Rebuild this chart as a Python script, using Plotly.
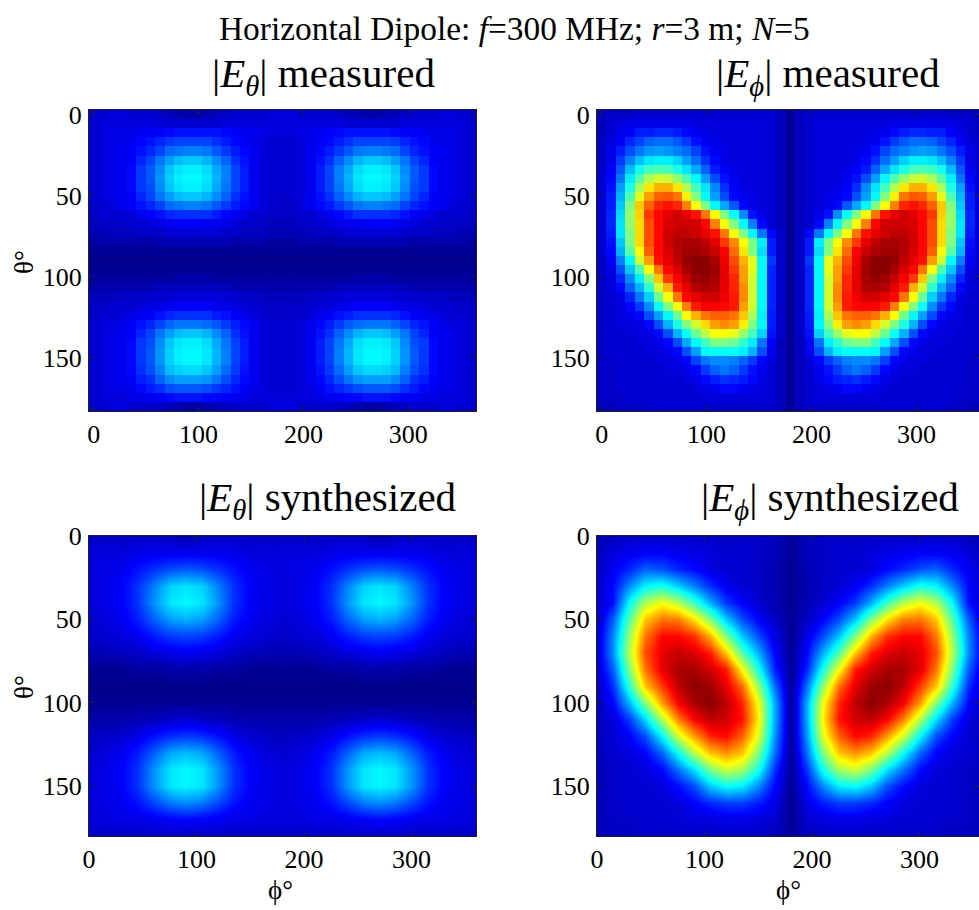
import plotly.graph_objects as go

TITLE = "Horizontal Dipole: <i>f</i>=300 MHz; <i>r</i>=3 m; <i>N</i>=5"
PANEL_TITLES = ["|<i>E</i><sub><i>θ</i></sub>| measured", "|<i>E</i><sub><i>ϕ</i></sub>| measured",
                "|<i>E</i><sub><i>θ</i></sub>| synthesized", "|<i>E</i><sub><i>ϕ</i></sub>| synthesized"]
PHI_TICKS = [0, 100, 200, 300]
THETA_TICKS = [0, 50, 100, 150]

PHI_MEASURED = [0, 9, 18, 27, 36, 45, 54, 63, 72, 81, 90, 99, 108, 117, 126, 135, 144, 153, 162, 171, 180,
                189, 198, 207, 216, 225, 234, 243, 252, 261, 270, 279, 288, 297, 306, 315, 324, 333, 342, 351, 360]
THETA_MEASURED = [0, 5.6, 11.3, 16.9, 22.5, 28.1, 33.8, 39.4, 45, 50.6, 56.3, 61.9, 67.5, 73.1, 78.8, 84.4, 90,
                  95.6, 101.3, 106.9, 112.5, 118.1, 123.8, 129.4, 135, 140.6, 146.3, 151.9, 157.5, 163.1, 168.8, 174.4, 180]
PHI_SYNTH = [0, 15, 30, 45, 60, 75, 90, 105, 120, 135, 150, 165, 180, 195, 210, 225, 240, 255, 270, 285, 300, 315, 330, 345, 360]
THETA_SYNTH = [0, 10, 20, 30, 40, 50, 60, 70, 80, 90, 100, 110, 120, 130, 140, 150, 160, 170, 180]

E_THETA_MEASURED = [
[8,8,9,9,8,8,8,7,6,5,4,4,5,6,7,8,8,8,8,9,9,9,8,8,8,8,7,6,5,4,4,5,6,7,8,8,8,9,9,8,8],
[8,9,9,9,9,9,9,9,8,8,8,8,8,8,9,9,9,9,9,9,9,9,9,9,9,9,9,8,8,8,8,8,8,9,9,9,9,9,9,9,8],
[8,9,10,10,10,11,12,12,13,14,14,14,14,14,13,12,11,11,10,9,9,9,10,11,11,12,13,14,14,14,14,14,13,12,12,11,10,10,10,9,8],
[8,9,10,10,11,13,14,16,18,19,19,19,19,17,15,13,12,10,9,8,8,8,9,10,12,13,15,17,19,19,19,19,18,16,14,13,11,10,10,9,8],
[8,9,10,11,12,14,16,19,23,24,25,25,24,21,18,15,13,11,9,8,8,8,9,11,13,15,18,21,24,25,25,24,23,19,16,14,12,11,10,9,8],
[8,9,10,11,12,16,19,24,28,31,32,32,30,26,22,17,14,11,9,8,8,8,9,11,14,17,22,26,30,32,32,31,28,24,19,16,12,11,10,9,8],
[8,9,10,11,13,18,21,26,32,35,36,36,34,29,25,19,15,11,9,8,8,8,9,11,15,19,25,29,34,36,36,35,32,26,21,18,13,11,10,9,8],
[8,9,10,11,13,18,21,27,33,36,37,37,35,30,25,19,15,11,9,8,8,8,9,11,15,19,25,30,35,37,37,36,33,27,21,18,13,11,10,9,8],
[8,9,10,11,13,18,20,26,32,35,36,36,34,29,24,19,15,11,9,8,8,8,9,11,15,19,24,29,34,36,36,35,32,26,20,18,13,11,10,9,8],
[8,9,10,11,12,16,19,24,28,31,32,32,30,26,22,17,14,11,9,8,7,8,9,11,14,17,22,26,30,32,32,31,28,24,19,16,12,11,10,9,8],
[7,8,9,11,12,14,16,19,23,24,25,25,24,21,18,15,13,11,9,7,7,7,9,11,13,15,18,21,24,25,25,24,23,19,16,14,12,11,9,8,7],
[7,8,8,8,9,11,12,14,16,17,17,17,17,15,13,11,10,8,8,7,7,7,8,8,10,11,13,15,17,17,17,17,16,14,12,11,9,8,8,8,7],
[6,7,7,7,8,8,9,10,11,12,12,12,11,11,10,9,8,7,7,6,6,6,7,7,8,9,10,11,11,12,12,12,11,10,9,8,8,7,7,7,6],
[5,5,6,6,6,7,7,7,8,8,8,8,8,8,7,7,6,6,6,5,5,5,6,6,6,7,7,8,8,8,8,8,8,7,7,7,6,6,6,5,5],
[3,4,4,4,4,4,4,5,5,5,5,5,5,5,5,4,4,4,4,3,3,3,4,4,4,4,5,5,5,5,5,5,5,5,4,4,4,4,4,4,3],
[2,2,2,2,2,2,2,2,2,2,2,2,2,2,2,2,2,2,2,2,2,2,2,2,2,2,2,2,2,2,2,2,2,2,2,2,2,2,2,2,2],
[1,1,1,1,1,1,1,1,1,1,1,1,1,1,1,1,1,1,1,1,1,1,1,1,1,1,1,1,1,1,1,1,1,1,1,1,1,1,1,1,1],
[2,2,2,2,2,2,2,2,2,2,2,2,2,2,2,2,2,2,2,2,2,2,2,2,2,2,2,2,2,2,2,2,2,2,2,2,2,2,2,2,2],
[3,3,3,3,3,3,3,3,3,4,4,4,4,3,3,3,3,3,3,3,3,3,3,3,3,3,3,3,4,4,4,4,3,3,3,3,3,3,3,3,3],
[4,5,5,5,5,5,5,6,6,6,6,6,6,6,6,5,5,5,5,4,4,4,5,5,5,5,6,6,6,6,6,6,6,6,5,5,5,5,5,5,4],
[6,6,6,7,7,7,8,8,8,9,9,9,9,9,8,8,7,7,6,6,6,6,6,7,7,8,8,9,9,9,9,9,8,8,8,7,7,7,6,6,6],
[7,7,8,8,8,9,10,10,11,12,12,12,12,11,10,9,9,8,7,7,7,7,7,8,9,9,10,11,12,12,12,12,11,10,10,9,8,8,8,7,7],
[7,8,8,9,10,11,12,14,16,17,17,17,17,15,14,12,11,9,8,7,7,7,8,9,11,12,14,15,17,17,17,17,16,14,12,11,10,9,8,8,7],
[8,9,9,10,12,14,16,19,22,24,24,24,23,21,18,15,13,11,9,8,8,8,9,11,13,15,18,21,23,24,24,24,22,19,16,14,12,10,9,9,8],
[8,9,10,11,12,16,19,24,28,31,32,32,30,26,22,17,14,11,9,8,8,8,9,11,14,17,22,26,30,32,32,31,28,24,19,16,12,11,10,9,8],
[8,9,10,11,13,18,20,26,32,35,36,36,34,29,24,19,15,11,9,8,8,8,9,11,15,19,24,29,34,36,36,35,32,26,20,18,13,11,10,9,8],
[8,9,10,11,13,18,21,27,33,36,37,37,35,30,25,19,15,11,9,8,8,8,9,11,15,19,25,30,35,37,37,36,33,27,21,18,13,11,10,9,8],
[8,9,10,11,13,18,21,27,33,36,37,37,35,30,25,19,15,11,9,8,8,8,9,11,15,19,25,30,35,37,37,36,33,27,21,18,13,11,10,9,8],
[8,9,10,11,13,17,20,25,31,33,34,34,32,28,23,18,14,11,9,8,8,8,9,11,14,18,23,28,32,34,34,33,31,25,20,17,13,11,10,9,8],
[8,9,10,11,12,15,17,22,26,28,28,28,27,24,20,16,13,11,9,8,8,8,9,11,13,16,20,24,27,28,28,28,26,22,17,15,12,11,10,9,8],
[8,9,10,10,11,13,15,17,20,21,21,21,20,18,16,14,12,10,9,8,8,8,9,10,12,14,16,18,20,21,21,21,20,17,15,13,11,10,10,9,8],
[8,9,9,9,10,10,11,12,13,14,14,14,13,13,12,11,10,9,9,9,9,9,9,9,10,11,12,13,13,14,14,14,13,12,11,10,10,9,9,9,8],
[8,8,9,9,8,8,8,7,6,5,4,4,5,6,7,8,8,8,8,9,9,9,8,8,8,8,7,6,5,4,4,5,6,7,8,8,8,9,9,8,8],
]

E_PHI_MEASURED = [
[6,7,7,7,8,8,8,8,8,8,8,8,8,8,8,8,8,8,8,6,2,6,8,8,8,8,8,8,8,8,8,8,8,8,8,8,8,7,7,7,6],
[6,8,9,10,10,10,10,10,10,10,9,9,9,9,9,9,9,9,8,6,2,6,8,9,9,9,9,9,9,9,9,10,10,10,10,10,10,10,9,8,6],
[6,8,10,12,15,15,16,16,15,13,11,10,9,9,9,9,9,9,8,6,2,6,8,9,9,9,9,9,9,10,11,13,15,16,16,15,15,12,10,8,6],
[7,9,12,16,19,22,23,23,21,18,14,11,10,9,9,9,9,9,8,6,2,6,8,9,9,9,9,9,10,11,14,18,21,23,23,22,19,16,12,9,7],
[7,10,15,20,24,27,28,27,25,23,19,14,11,10,9,9,9,9,8,6,2,6,8,9,9,9,9,10,11,14,19,23,25,27,28,27,24,20,15,10,7],
[7,10,18,25,31,35,36,36,33,28,23,17,13,10,9,9,9,9,8,6,2,6,8,9,9,9,9,10,13,17,23,28,33,36,36,35,31,25,18,10,7],
[7,12,21,31,39,44,45,44,40,35,29,22,15,12,10,9,9,9,8,6,2,6,8,9,9,9,10,12,15,22,29,35,40,44,45,44,39,31,21,12,7],
[8,13,24,36,46,54,58,57,52,45,37,28,20,14,11,9,9,9,8,6,2,6,8,9,9,9,11,14,20,28,37,45,52,57,58,54,46,36,24,13,8],
[8,14,28,40,54,65,70,70,65,55,44,35,26,17,12,10,9,9,8,6,2,6,8,9,9,10,12,17,26,35,44,55,65,70,70,65,54,40,28,14,8],
[8,15,30,45,60,72,78,79,76,64,50,37,28,20,13,11,10,9,8,6,2,6,8,9,10,11,13,20,28,37,50,64,76,79,78,72,60,45,30,15,8],
[8,15,32,50,68,78,84,86,84,75,62,50,37,29,21,13,10,9,8,6,2,6,8,9,10,13,21,29,37,50,62,75,84,86,84,78,68,50,32,15,8],
[8,16,34,52,67,82,87,90,92,90,86,76,63,50,38,26,14,10,8,6,2,6,8,10,14,26,38,50,63,76,86,90,92,90,87,82,67,52,34,16,8],
[8,16,35,52,66,80,87,91,92,92,92,87,75,62,50,37,25,13,8,6,2,6,8,13,25,37,50,62,75,87,92,92,92,91,87,80,66,52,35,16,8],
[8,15,35,50,66,80,87,92,94,94,92,90,86,76,62,50,37,24,13,7,2,7,13,24,37,50,62,76,86,90,92,94,94,92,87,80,66,50,35,15,8],
[8,14,32,50,66,80,87,92,95,96,96,94,90,82,74,62,50,36,15,7,2,7,15,36,50,62,74,82,90,94,96,96,95,92,87,80,66,50,32,14,8],
[8,13,30,46,62,78,87,91,95,97,97,96,93,88,77,65,50,34,15,7,2,7,15,34,50,65,77,88,93,96,97,97,95,91,87,78,62,46,30,13,8],
[7,12,25,37,58,72,86,90,94,98,99,99,96,89,80,70,60,37,18,7,2,7,18,37,60,70,80,89,96,99,99,98,94,90,86,72,58,37,25,12,7],
[7,10,20,32,45,62,76,87,91,96,99,99,97,90,82,72,60,37,16,7,2,7,16,37,60,72,82,90,97,99,99,96,91,87,76,62,45,32,20,10,7],
[7,9,16,26,36,50,68,82,88,93,97,98,96,90,84,72,58,37,16,7,2,7,16,37,58,72,84,90,96,98,97,93,88,82,68,50,36,26,16,9,7],
[7,9,13,22,30,42,58,70,85,90,95,96,95,90,84,74,58,37,16,7,2,7,16,37,58,74,84,90,95,96,95,90,85,70,58,42,30,22,13,9,7],
[7,8,10,16,24,33,48,62,76,87,90,92,92,89,85,74,58,37,16,7,2,7,16,37,58,74,85,89,92,92,90,87,76,62,48,33,24,16,10,8,7],
[7,8,9,13,18,26,38,50,62,75,85,88,88,87,85,72,58,37,16,7,2,7,16,37,58,72,85,87,88,88,85,75,62,50,38,26,18,13,9,8,7],
[7,8,9,10,13,20,28,37,48,62,70,76,78,78,76,68,54,36,15,7,2,7,15,36,54,68,76,78,78,76,70,62,48,37,28,20,13,10,9,8,7],
[7,8,9,9,10,13,20,30,40,50,58,66,72,74,72,64,50,37,15,7,2,7,15,37,50,64,72,74,72,66,58,50,40,30,20,13,10,9,9,8,7],
[7,8,8,9,9,10,13,20,30,38,48,56,62,62,60,52,44,33,14,7,2,7,14,33,44,52,60,62,62,56,48,38,30,20,13,10,9,9,8,8,7],
[7,8,8,8,9,9,10,13,20,29,37,44,50,50,48,42,36,24,12,6,2,6,12,24,36,42,48,50,50,44,37,29,20,13,10,9,9,8,8,8,7],
[7,8,8,8,8,9,9,10,13,20,28,37,38,38,38,36,30,20,11,6,2,6,11,20,30,36,38,38,38,37,28,20,13,10,9,9,8,8,8,8,7],
[7,7,8,8,8,8,9,9,10,13,19,24,26,26,25,22,18,13,9,6,2,6,9,13,18,22,25,26,26,24,19,13,10,9,9,8,8,8,8,7,7],
[7,7,8,8,8,8,8,9,9,10,13,18,22,24,22,18,14,11,8,6,2,6,8,11,14,18,22,24,22,18,13,10,9,9,8,8,8,8,8,7,7],
[7,7,8,8,8,8,8,8,8,9,10,13,15,17,16,15,13,10,8,6,2,6,8,10,13,15,16,17,15,13,10,9,8,8,8,8,8,8,8,7,7],
[7,7,8,8,8,8,8,8,8,8,9,10,11,13,13,11,10,9,8,6,2,6,8,9,10,11,13,13,11,10,9,8,8,8,8,8,8,8,8,7,7],
[7,7,7,8,8,8,8,8,8,8,8,9,9,9,9,9,9,9,8,6,2,6,8,9,9,9,9,9,9,9,8,8,8,8,8,8,8,8,7,7,7],
[6,6,7,7,7,8,8,8,8,8,8,8,8,8,8,8,8,8,8,6,2,6,8,8,8,8,8,8,8,8,8,8,8,8,8,8,8,7,7,6,6],
]

E_THETA_SYNTH = [
[7,7,7,7,7,6,5,6,7,7,7,7,7,7,7,7,7,6,5,6,7,7,7,7,7],
[9,9,9,10,11,11,11,11,11,10,9,9,9,9,9,10,11,11,11,11,11,10,9,9,9],
[9,10,11,14,17,20,21,20,17,14,11,10,9,10,11,14,17,20,21,20,17,14,11,10,9],
[9,10,12,17,25,33,35,33,25,17,12,10,9,10,12,17,25,33,35,33,25,17,12,10,9],
[9,10,12,17,27,35,37,35,27,17,12,10,9,10,12,17,27,35,37,35,27,17,12,10,9],
[8,9,11,15,22,28,30,28,22,15,11,9,8,9,11,15,22,28,30,28,22,15,11,9,8],
[7,8,9,11,15,18,19,18,15,11,9,8,7,8,9,11,15,18,19,18,15,11,9,8,7],
[5,5,6,7,9,10,11,10,9,7,6,5,5,5,6,7,9,10,11,10,9,7,6,5,5],
[2,2,2,3,3,4,4,4,3,3,2,2,2,2,2,3,3,4,4,4,3,3,2,2,2],
[1,1,1,1,1,1,1,1,1,1,1,1,1,1,1,1,1,1,1,1,1,1,1,1,1],
[2,2,2,2,2,2,2,2,2,2,2,2,2,2,2,2,2,2,2,2,2,2,2,2,2],
[4,4,4,5,6,7,8,7,6,5,4,4,4,4,4,5,6,7,8,7,6,5,4,4,4],
[6,7,8,10,14,17,18,17,14,10,8,7,6,7,8,10,14,17,18,17,14,10,8,7,6],
[8,9,11,15,22,29,31,29,22,15,11,9,8,9,11,15,22,29,31,29,22,15,11,9,8],
[9,10,12,17,27,35,37,35,27,17,12,10,9,10,12,17,27,35,37,35,27,17,12,10,9],
[9,10,12,17,27,35,37,35,27,17,12,10,9,10,12,17,27,35,37,35,27,17,12,10,9],
[9,10,11,14,19,24,26,24,19,14,11,10,9,10,11,14,19,24,26,24,19,14,11,10,9],
[9,9,10,10,11,12,13,12,11,10,10,9,9,9,10,10,11,12,13,12,11,10,10,9,9],
[7,7,7,7,7,7,7,7,7,7,7,7,7,7,7,7,7,7,7,7,7,7,7,7,7],
]

E_PHI_SYNTH = [
[5,6,7,7,7,7,7,7,7,7,7,6,3,6,7,7,7,7,7,7,7,7,7,6,5],
[6,9,11,12,12,11,10,9,8,8,7,6,2,6,7,8,8,9,10,11,12,12,11,9,6],
[7,11,16,22,20,16,13,9,8,8,7,5,2,5,7,8,8,9,13,16,20,22,16,11,7],
[7,13,26,37,40,33,25,17,11,8,7,5,2,5,7,8,11,17,25,33,40,37,26,13,7],
[7,14,38,55,62,56,44,30,18,12,8,5,2,5,8,12,18,30,44,56,62,55,38,14,7],
[7,22,46,68,76,75,65,50,32,20,12,7,2,7,12,20,32,50,65,75,76,68,46,22,7],
[8,26,52,76,87,87,83,70,50,32,20,10,2,10,20,32,50,70,83,87,87,76,52,26,8],
[8,27,55,80,90,93,91,85,68,46,30,13,2,13,30,46,68,85,91,93,90,80,55,27,8],
[7,22,50,76,90,96,96,92,85,62,40,16,2,16,40,62,85,92,96,96,90,76,50,22,7],
[6,17,42,68,82,94,99,97,90,77,52,24,2,24,52,77,90,97,99,94,82,68,42,17,6],
[6,13,30,50,72,88,96,99,94,84,62,30,2,30,62,84,94,99,96,88,72,50,30,13,6],
[6,9,18,34,55,75,88,94,92,86,64,30,2,30,64,86,92,94,88,75,55,34,18,9,6],
[6,8,12,20,37,58,72,84,87,78,60,28,2,28,60,78,87,84,72,58,37,20,12,8,6],
[6,8,9,12,22,38,55,68,73,68,50,24,2,24,50,68,73,68,55,38,22,12,9,8,6],
[6,7,8,9,13,24,35,50,58,54,40,18,2,18,40,54,58,50,35,24,13,9,8,7,6],
[6,7,8,8,9,13,20,32,38,36,26,13,2,13,26,36,38,32,20,13,9,8,8,7,6],
[6,7,8,8,8,9,12,16,18,18,15,10,2,10,15,18,18,16,12,9,8,8,8,7,6],
[6,7,7,8,8,8,9,9,10,10,9,8,2,8,9,10,10,9,9,8,8,8,7,7,6],
[5,6,6,7,7,7,7,7,7,7,7,6,3,6,7,7,7,7,7,7,7,7,6,6,5],
]

JET = [[0, "rgb(0,0,128)"], [0.125, "rgb(0,0,255)"], [0.375, "rgb(0,255,255)"],
       [0.625, "rgb(255,255,0)"], [0.875, "rgb(255,0,0)"], [1, "rgb(128,0,0)"]]
W, H = 979, 910
FONT = "Liberation Serif"
LEFT_COL, RIGHT_COL = (89, 476), (597, 979)
TOP_ROW, BOTTOM_ROW = (110, 411), (536, 836)

panels = [
    (E_THETA_MEASURED, PHI_MEASURED, THETA_MEASURED, LEFT_COL, TOP_ROW, [-4.5, 364.5], [182.8, -2.8], False),
    (E_PHI_MEASURED, PHI_MEASURED, THETA_MEASURED, RIGHT_COL, TOP_ROW, [-4.5, 359.7], [182.8, -2.8], False),
    (E_THETA_SYNTH, PHI_SYNTH, THETA_SYNTH, LEFT_COL, BOTTOM_ROW, [0, 360], [180, 0], True),
    (E_PHI_SYNTH, PHI_SYNTH, THETA_SYNTH, RIGHT_COL, BOTTOM_ROW, [0, 355.3], [180, 0], True),
]

fig = go.Figure()
axis_style = dict(showgrid=False, zeroline=False, showline=True, linecolor="#222", linewidth=1, mirror="ticks",
                  ticks="inside", ticklen=5, tickcolor="#222", tickwidth=1, color="black", automargin=False,
                  tickfont=dict(family=FONT, size=26, color="black"))
for i, (z, x, y, col, row, xr, yr, smooth) in enumerate(panels):
    n = "" if i == 0 else str(i + 1)
    fig.add_trace(go.Heatmap(z=z, x=x, y=y, zmin=0, zmax=100, colorscale=JET, showscale=False,
                             zsmooth="best" if smooth else False, xaxis="x" + n, yaxis="y" + n))
    fig.layout["xaxis" + n] = dict(domain=[col[0] / W, col[1] / W], range=xr, tickvals=PHI_TICKS,
                                   anchor="y" + n, ticklabelstandoff=0, **axis_style)
    fig.layout["yaxis" + n] = dict(domain=[1 - row[1] / H, 1 - row[0] / H], range=yr, tickvals=THETA_TICKS,
                                   anchor="x" + n, ticklabelstandoff=1, **axis_style)


def label(text, x, y, size, angle=0):
    fig.add_annotation(text=text, x=x / W, y=1 - y / H, xref="paper", yref="paper", showarrow=False,
                       xanchor="center", yanchor="middle", textangle=angle,
                       font=dict(family=FONT, size=size, color="black"))


label(TITLE, 514, 28, 33.4)
label(PANEL_TITLES[0], 323, 76, 41)
label(PANEL_TITLES[1], 828, 76, 41)
label(PANEL_TITLES[2], 327, 500, 41)
label(PANEL_TITLES[3], 830, 500, 41)
label("θ°", 24, 262, 27, -90)
label("θ°", 24, 687, 27, -90)
label("ϕ°", 280, 890, 27)
label("ϕ°", 788, 890, 27)

fig.update_layout(width=W, height=H, margin=dict(l=0, r=0, t=0, b=0), paper_bgcolor="white", plot_bgcolor="white")
fig.write_html("out.html", config={"displayModeBar": False},
               post_script="document.body.style.margin='0';document.documentElement.style.overflow='hidden';")
